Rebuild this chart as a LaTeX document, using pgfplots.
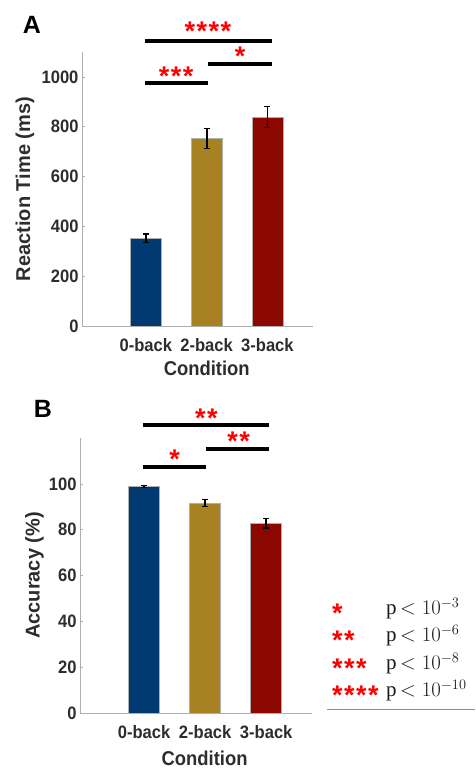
\documentclass[border=0pt]{standalone}
\usepackage{pgfplots}
\pgfplotsset{compat=1.18}
\usepackage{fontspec}
\setmainfont{Liberation Sans}[FakeStretch=0.92]
\newfontfamily\rotfont{Liberation Sans}
\newfontfamily\starfont{Liberation Sans}
\newfontfamily\keyfont{Liberation Serif}

\definecolor{cblue}{RGB}{0,58,112}
\definecolor{cgold}{RGB}{168,129,35}
\definecolor{cred}{RGB}{138,8,0}
\definecolor{tgray}{RGB}{45,45,45}
\definecolor{agray}{RGB}{175,175,175}

% spaced asterisks
\newcommand\sk{\kern1.5pt}
\tikzset{
  stars/.style={font=\starfont\fontsize{27}{27}\selectfont\bfseries, text=red,
    anchor=base, yshift=-15pt, inner sep=0pt},
}
\pgfplotsset{
  panel/.style={
    scale only axis, clip=false,
    xmin=-0.05, xmax=3.75, ymin=0,
    axis x line*=bottom, axis y line*=left,
    axis line style={agray, line width=0.7pt},
    tick style={agray, line width=0.6pt},
    tick align=inside, major tick length=3pt,
    xtick={1,2,3}, xticklabels={0-back,2-back,3-back},
    /pgf/number format/assume math mode=true,
    /pgf/number format/1000 sep={},
    tick label style={font=\fontsize{18}{18}\selectfont\bfseries, text=tgray},
    x tick label style={yshift=-9pt},
    label style={text=tgray},
    xlabel={Condition},
    xlabel style={font=\fontsize{20}{20}\selectfont\bfseries, anchor=center},
    ylabel style={font=\rotfont\fontsize{20}{20}\selectfont\bfseries, anchor=center},
  },
  bars/.style={ybar, bar width=31pt, bar shift=0pt, draw=agray, line width=0.5pt,
    error bars/y dir=both, error bars/y explicit,
    error bars/error bar style={black, line width=1.8pt},
    error bars/error mark options={black, rotate=90, line width=1.4pt, mark size=3pt}},
  sig/.style={black, line width=4pt, forget plot},
}

\begin{document}
\begin{tikzpicture}
\useasboundingbox (0,0) rectangle (475pt,769pt);

% Panel A: reaction time
\begin{axis}[panel,
  at={(82pt,443pt)}, anchor=south west,
  width=231pt, height=274pt,
  ymax=1100, ytick={0,200,400,600,800,1000},
  ylabel={Reaction Time (ms)},
  ylabel style={at={(axis description cs:-0.247,0.5)}},
  xlabel style={at={(axis description cs:0.54,-0.153)}},
]
\addplot[bars, fill=cblue] coordinates {(1,352) +- (0,17)};
\addplot[bars, fill=cgold] coordinates {(2,752) +- (0,40)};
\addplot[bars, fill=cred]  coordinates {(3,838) +- (0,42)};
\addplot[sig] coordinates {(0.98,976) (2.03,976)};
\addplot[sig] coordinates {(2.03,1052) (3.07,1052)};
\addplot[sig] coordinates {(0.98,1144) (3.07,1144)};
\node[stars] at (axis cs:2.02,1205) {*\sk*\sk*\sk*};
\node[stars] at (axis cs:2.55,1108) {*};
\node[stars] at (axis cs:1.5,1024) {*\sk*\sk*};
\end{axis}
\node[font=\rotfont\fontsize{25}{25}\selectfont\bfseries] at (32pt,744pt) {A};

% Panel B: accuracy
\begin{axis}[panel,
  at={(80pt,56pt)}, anchor=south west,
  width=232pt, height=275pt,
  ymax=120, ytick={0,20,40,60,80,100},
  ylabel={Accuracy (\%)},
  ylabel style={at={(axis description cs:-0.196,0.5)}},
  xlabel style={at={(axis description cs:0.537,-0.164)}},
]
\addplot[bars, fill=cblue] coordinates {(1,98.8) +- (0,0.4)};
\addplot[bars, fill=cgold] coordinates {(2,91.6) +- (0,1.6)};
\addplot[bars, fill=cred]  coordinates {(3,82.8) +- (0,2.0)};
\addplot[sig] coordinates {(0.98,107.4) (2.02,107.4)};
\addplot[sig] coordinates {(2.02,115.3) (3.05,115.3)};
\addplot[sig] coordinates {(0.98,125.5) (3.05,125.5)};
\node[stars] at (axis cs:2.02,131.2) {*\sk*};
\node[stars] at (axis cs:2.55,120.9) {*\sk*};
\node[stars] at (axis cs:1.5,113.3) {*};
\end{axis}
\node[font=\rotfont\fontsize{25}{25}\selectfont\bfseries] at (43pt,360pt) {B};

% significance key
\foreach \s/\e/\y in {*/3/161, *\sk*/6/134, *\sk*\sk*/8/106, *\sk*\sk*\sk*/10/79}{
  \node[stars, anchor=base west] at (332pt,\y pt) {\s};
  \node[anchor=base west, inner sep=0pt, text=black!90, font=\keyfont\fontsize{21}{21}\selectfont] at (386pt,\y pt-7pt) {p\,$<10^{-\e}$};
}
\draw[agray!80!black, line width=0.8pt] (327pt,60pt) -- (475pt,60pt);
\end{tikzpicture}
\end{document}
